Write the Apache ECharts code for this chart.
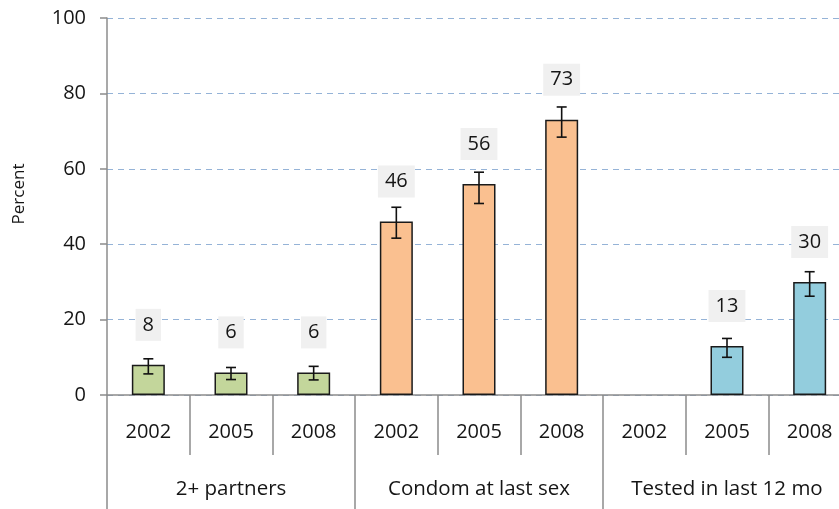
<!DOCTYPE html>
<html>
<head>
<meta charset="utf-8">
<script src="https://cdn.jsdelivr.net/npm/echarts@6/dist/echarts.min.js"></script>
<style>
  html, body { margin: 0; padding: 0; background: #fff; }
  #chart { width: 839px; height: 509px; }
</style>
</head>
<body>
<div id="chart"></div>
<script>
// Survey years (one bar per year within each indicator)
const years = ['2002', '2005', '2008', '2002', '2005', '2008', '2002', '2005', '2008'];
// Indicator groups spanning three years each
const groups = ['2+ partners', 'Condom at last sex', 'Tested in last 12 mo'];
// Point estimates (percent); no data for testing in 2002
const percent = [8, 6, 6, 46, 56, 73, null, 13, 30];
// 95% confidence interval bounds
const ciLow  = [5.6, 4.1, 4.0, 41.6, 50.8, 68.4, null, 10.0, 26.2];
const ciHigh = [9.6, 7.3, 7.6, 49.8, 59.1, 76.4, null, 15.0, 32.7];
// Colour per indicator group
const groupColors = ['#c3d69b', '#fac090', '#93cddd'];
// Y axis ticks
const yTicks = { min: 0, max: 100, step: 20 };
const yTitle = 'Percent';

const FONT = '"Open Sans", "Liberation Sans", sans-serif';
const TEXT = '#151515';

const barData = percent.map((v, i) => ({
  value: v,
  itemStyle: { color: groupColors[Math.floor(i / 3)] }
}));

const errData = [];
percent.forEach((v, i) => {
  if (v !== null) errData.push([i, ciLow[i], ciHigh[i]]);
});

const chart = echarts.init(document.getElementById('chart'), null, { renderer: 'canvas' });

chart.setOption({
  animation: false,
  backgroundColor: '#ffffff',
  grid: { left: 107, top: 18, width: 744, height: 377, containLabel: false, outerBoundsMode: 'none' },
  graphic: [
    {
      type: 'text',
      x: 19,
      y: 194,
      rotation: Math.PI / 2,
      style: {
        text: yTitle,
        font: '17px "Open Sans", "Liberation Sans", sans-serif',
        fill: TEXT,
        align: 'center',
        verticalAlign: 'middle'
      }
    }
  ],
  xAxis: [
    {
      type: 'category',
      data: years,
      gridIndex: 0,
      position: 'bottom',
      axisLine: { show: true, lineStyle: { color: '#8c8c8c', width: 1.5 } },
      axisTick: { show: true, interval: 0, length: 60, alignWithLabel: false,
                  lineStyle: { color: '#8c8c8c', width: 1.5 } },
      axisLabel: { interval: 0, margin: 27, fontSize: 20, color: TEXT, fontFamily: FONT },
      splitLine: { show: false }
    },
    {
      type: 'category',
      data: groups,
      gridIndex: 0,
      position: 'bottom',
      offset: 0,
      axisLine: { show: false },
      axisTick: { show: true, interval: 0, length: 114, alignWithLabel: false,
                  lineStyle: { color: '#8c8c8c', width: 1.5 } },
      axisLabel: { interval: 0, margin: 84, fontSize: 20.5, color: TEXT, fontFamily: FONT },
      splitLine: { show: false }
    }
  ],
  yAxis: {
    type: 'value',
    min: yTicks.min,
    max: yTicks.max,
    interval: yTicks.step,
    axisLine: { show: true, lineStyle: { color: '#8c8c8c', width: 1.5 } },
    axisTick: { show: true, inside: false, length: 7, lineStyle: { color: '#8c8c8c', width: 1.5 } },
    axisLabel: { margin: 21, fontSize: 20, color: TEXT, fontFamily: FONT },
    splitLine: { show: true, lineStyle: { color: '#95b3d7', width: 1.2, type: [6, 5] } }
  },
  series: [
    {
      type: 'bar',
      xAxisIndex: 0,
      data: barData,
      barWidth: 33,
      itemStyle: { borderColor: '#1a1a1a', borderWidth: 1.5 },
      label: {
        show: true,
        position: 'top',
        distance: 24,
        fontSize: 20,
        color: TEXT,
        fontFamily: FONT,
        backgroundColor: '#f0f0f0',
        padding: [6, 7, 6, 7],
        formatter: (p) => p.value
      },
      z: 2
    },
    {
      type: 'custom',
      xAxisIndex: 0,
      data: errData,
      z: 3,
      renderItem: function (params, api) {
        const x = api.value(0);
        const lo = api.coord([x, api.value(1)]);
        const hi = api.coord([x, api.value(2)]);
        const cap = 5;
        const style = { stroke: '#111', lineWidth: 1.6 };
        return {
          type: 'group',
          children: [
            { type: 'line', shape: { x1: lo[0], y1: lo[1], x2: hi[0], y2: hi[1] }, style },
            { type: 'line', shape: { x1: hi[0] - cap, y1: hi[1], x2: hi[0] + cap, y2: hi[1] }, style },
            { type: 'line', shape: { x1: lo[0] - cap, y1: lo[1], x2: lo[0] + cap, y2: lo[1] }, style }
          ]
        };
      }
    }
  ]
});
</script>
</body>
</html>
